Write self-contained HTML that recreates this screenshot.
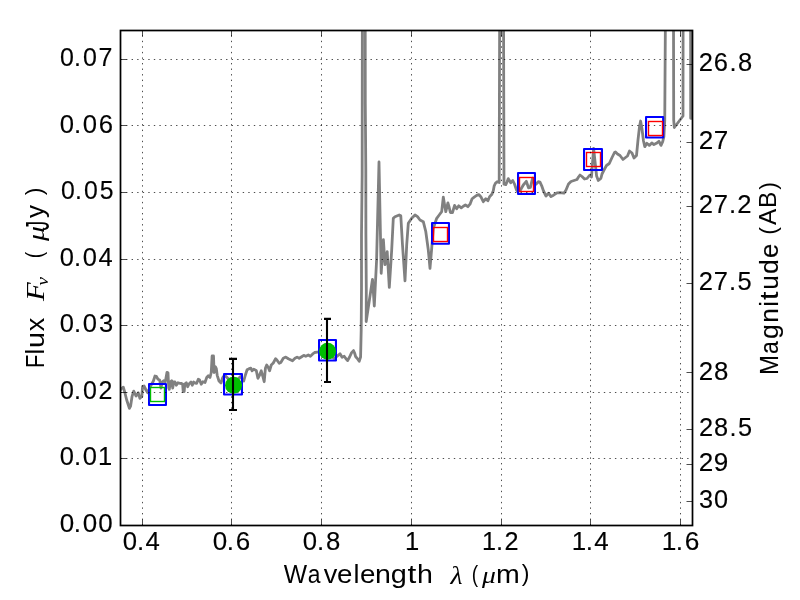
<!DOCTYPE html><html><head><meta charset="utf-8"><style>html,body{margin:0;padding:0;background:#fff;overflow:hidden;}svg{display:block;}</style></head><body>
<svg width="800" height="600" viewBox="0 0 800 600">
<rect x="0" y="0" width="800" height="600" fill="#fff"/>
<defs><clipPath id="ax"><rect x="120.5" y="30.5" width="572" height="495"/></clipPath></defs>
<g clip-path="url(#ax)">
<polyline points="112,395 119,392 121,389 123.3,387.2 124.7,392 126.7,400 129.4,408.3 130.6,406 132,396.7 133.7,391.2 136.1,396 138.3,392.8 139.9,398.3 141.8,396.5 142.6,386.4 144,386 146,390 147.7,392.7 150,387 153.3,381.3 155,376 156.3,376.3 158,379.3 159.7,380 161,388 162.3,382 163.7,380.7 165.3,382 167,372.3 168,372.7 168.7,388 169.3,389.3 170.3,382 171.7,380.7 172.7,388 173.7,382 175,382 176.3,385.3 178,382.7 179.7,383.3 181.5,383.5 182.6,384 183.2,391.5 184.2,391.5 184.8,384 186.3,382.7 187.7,386.7 189,384 191,382 192.3,385.3 193.7,382 195,383 196.7,383.3 198.3,379.2 199.6,380 201.25,384.2 202.9,381.7 205,382.5 206.7,377.5 208.3,375.8 210,377.5 211.25,372.5 212.1,356 213.5,356 214.1,372.5 215.5,366.8 216.3,368.5 217.2,375.3 219,381 221,383 222.4,378.5 223.3,376.7 225.8,376.2 229,379.5 233.5,381 238,379 240.5,376.5 243.75,381 245.4,375 247.1,369.8 248.75,368.9 250.8,368.1 252.1,370.8 253.75,369.2 256.25,370.4 257.9,378.3 259.6,375 261.25,370.8 262.9,376.7 264.2,381.7 265.4,368.3 266.7,365 268.3,367.5 269.6,370.8 271.25,365 273.3,363 275.6,358.7 276.9,360 279.2,363.3 280.8,362.5 283.3,358.3 285.8,357.1 288.3,358.75 292.5,360.8 295,358.3 297.1,357.1 299.2,358.3 301.7,356.7 303.75,355.4 305.8,356.25 308.3,355 310.4,356.25 312.5,354.2 314.6,352.5 317.1,352.1 319,352 325,354 330,356 334.2,358.3 337.5,355.8 340,353.75 342.1,357.3 344.2,356.3 345.8,358.5 347.6,360.6 349.6,357 351.6,352.6 353.5,350.6 354.6,353 355.6,356.5 357.1,358.3 359.2,361.25 360.6,357 361.2,330 361.5,288 361.5,235 362.15,175 362.5,-100 365.1,-100 365.3,104 365.8,170 365.9,234 366.3,290 366.2,321.5 372.5,279.3 374.3,306 376.6,260 379,162 381.2,273.3 383.4,239.75 385,264.7 387.2,251.7 389.3,287.4 391.7,250 393.3,218.3 395,216.7 399.2,215 400.8,215.8 402.5,245 405,280.8 406.7,245 408.3,223.3 411.7,218.3 415,215 417.5,216.7 420,220 423.3,221.7 425.8,231.7 428.3,250 430,268.3 431.7,248.3 433.3,228.3 436.7,218.3 439.2,215 441.7,211.7 443.3,197.1 444.6,205 445.8,211.7 447.9,202.9 449.2,207.5 450.4,212.5 452.5,212.5 454.6,205.4 456.7,208.75 458.75,205.8 461.25,207.9 463.3,206.25 465.4,205 467.9,206.7 470,204.2 472.1,198.75 474.2,197.1 476.7,195.4 478.75,194.6 480.8,196.7 483.3,201.7 485.8,198.75 487.9,200.8 489.6,196.7 491.7,194.6 493.3,190.8 494.2,185.8 495.4,183.3 497.1,181.7 499.2,182.5 501.5,-700 504,184.2 505.8,184.6 507.1,181.7 508.3,178.6 510.7,182.7 512.8,180.5 514.5,184 516.5,190 517.8,191.5 520.3,190.3 523.3,185 526.3,181.3 528.5,187.8 530.4,187.4 532.6,178.2 535,185 536.7,183.5 538.3,181.7 540,182.1 541.7,185.8 543.5,191 546,196 548.5,193.2 551,196.6 553.5,195.2 557,192.8 560,192.6 564,193.2 566,190 568.5,184 571,181.5 574,180.5 577,179.5 578.5,177 580,175 582,176.5 584.5,179 587,178.5 589,176 590.5,175 591.5,177 593.6,148.5 596.6,176 598.3,180.5 600.3,179 601,178 602,174 604,170 606.5,165.5 609.3,163.5 611.8,158 614.5,152.5 615.5,152 617.5,154 620,155.5 623,159.5 625.5,157.5 627.5,156 629.5,151 632,153 634,158 636.5,155.5 638,140 639.6,126 640.6,121 642,129 643.5,141 644.8,146.7 646.8,143.3 649.3,145.4 651.8,142.9 653.9,144.6 656.4,143.3 658.9,141.25 661,145.4 662.7,141.7 663.9,136.7 664.75,120.8 665.4,20 673.5,20 673.7,120 674.3,127.5 683,116 683.1,20 690.6,20 690.7,118.3 700,118" fill="none" stroke="#808080" stroke-width="2.8" stroke-linejoin="round" stroke-linecap="round"/>
<rect x="149.05" y="384.05" width="16.9" height="20.9" fill="none" stroke="#0000ff" stroke-width="2.1" stroke-linejoin="round"/>
<rect x="224.05" y="374.05" width="17.9" height="20.5" fill="none" stroke="#0000ff" stroke-width="2.1" stroke-linejoin="round"/>
<rect x="319.05" y="340.05" width="16.9" height="20.5" fill="none" stroke="#0000ff" stroke-width="2.1" stroke-linejoin="round"/>
<rect x="432.05" y="223.05" width="16.9" height="20.7" fill="none" stroke="#0000ff" stroke-width="2.1" stroke-linejoin="round"/>
<rect x="518.05" y="173.05" width="16.9" height="20.9" fill="none" stroke="#0000ff" stroke-width="2.1" stroke-linejoin="round"/>
<rect x="584.05" y="149.05" width="17.9" height="20.9" fill="none" stroke="#0000ff" stroke-width="2.1" stroke-linejoin="round"/>
<rect x="646.05" y="117.05" width="17.1" height="20.5" fill="none" stroke="#0000ff" stroke-width="2.1" stroke-linejoin="round"/>
<rect x="150.5" y="387.5" width="14" height="14" fill="none" stroke="#00bf00" stroke-width="1.39"/>
<rect x="433.5" y="227.5" width="14" height="14" fill="none" stroke="#ff0000" stroke-width="1.39"/>
<rect x="519.5" y="177.5" width="14" height="14" fill="none" stroke="#ff0000" stroke-width="1.39"/>
<rect x="586.5" y="152.5" width="14" height="14" fill="none" stroke="#ff0000" stroke-width="1.39"/>
<rect x="648.5" y="121.5" width="14" height="14" fill="none" stroke="#ff0000" stroke-width="1.39"/>
</g>
<path d="M142.5 525.5V30M231.5 525.5V30M321.5 525.5V30M411.5 525.5V30M501.5 525.5V30M590.5 525.5V30M680.5 525.5V30M120.5 59.5H692.5M120.5 125.5H692.5M120.5 192.5H692.5M120.5 259.5H692.5M120.5 325.5H692.5M120.5 392.5H692.5M120.5 458.5H692.5" stroke="#000" stroke-width="0.7" stroke-dasharray="1.3889 4.1667" fill="none"/>
<circle cx="233.55" cy="385.35" r="8.5" fill="#00bf00"/>
<circle cx="327.55" cy="351.35" r="8.5" fill="#00bf00"/>
<path d="M233 358.9V409.95M229 358.9H237M229 409.95H237" stroke="#000" stroke-width="2.1" fill="none"/>
<path d="M327 318.9V382M324 318.9H331M324 382H331" stroke="#000" stroke-width="2.1" fill="none"/>
<path d="M142.5 525.5V519.5M142.5 30.5V36.5M231.5 525.5V519.5M231.5 30.5V36.5M321.5 525.5V519.5M321.5 30.5V36.5M411.5 525.5V519.5M411.5 30.5V36.5M501.5 525.5V519.5M501.5 30.5V36.5M590.5 525.5V519.5M590.5 30.5V36.5M680.5 525.5V519.5M680.5 30.5V36.5M120.5 59.5H126.5M120.5 125.5H126.5M120.5 192.5H126.5M120.5 259.5H126.5M120.5 325.5H126.5M120.5 392.5H126.5M120.5 458.5H126.5M692.5 64.5H686.5M692.5 142.5H686.5M692.5 206.5H686.5M692.5 283.5H686.5M692.5 372.5H686.5M692.5 429.5H686.5M692.5 464.5H686.5M692.5 501.5H686.5" stroke="#000" stroke-width="0.7" fill="none"/>
<rect x="120.5" y="30.5" width="572" height="495" fill="none" stroke="#000" stroke-width="1.72"/>
<g opacity="0.999">
<text transform="matrix(0.25688 0 0 0.25352 0 549.746)" x="478.07 532.95 566.16" font-family='"Liberation Sans", sans-serif' font-size="100" fill="#000" stroke="#000" stroke-width="0.6">0.4</text>
<text transform="matrix(0.25962 0 0 0.25352 0 549.746)" x="819.41 873.85 908.00" font-family='"Liberation Sans", sans-serif' font-size="100" fill="#000" stroke="#000" stroke-width="0.6">0.6</text>
<text transform="matrix(0.25714 0 0 0.25352 0 549.746)" x="1177.56 1232.39 1267.50" font-family='"Liberation Sans", sans-serif' font-size="100" fill="#000" stroke="#000" stroke-width="0.6">0.8</text>
<text transform="matrix(0.25581 0 0 0.26087 0 550.000)" x="1583.00" font-family='"Liberation Sans", sans-serif' font-size="100" fill="#000" stroke="#000" stroke-width="0.6">1</text>
<text transform="matrix(0.25253 0 0 0.25714 0 550.000)" x="1908.92 1964.02 1997.54" font-family='"Liberation Sans", sans-serif' font-size="100" fill="#000" stroke="#000" stroke-width="0.6">1.2</text>
<text transform="matrix(0.25962 0 0 0.26087 0 550.000)" x="2202.65 2256.67 2289.39" font-family='"Liberation Sans", sans-serif' font-size="100" fill="#000" stroke="#000" stroke-width="0.6">1.4</text>
<text transform="matrix(0.26263 0 0 0.25352 0 549.746)" x="2519.75 2573.33 2606.92" font-family='"Liberation Sans", sans-serif' font-size="100" fill="#000" stroke="#000" stroke-width="0.6">1.6</text>
<text transform="matrix(0.25974 0 0 0.25352 0 531.746)" x="229.95 284.38 318.50 378.18" font-family='"Liberation Sans", sans-serif' font-size="100" fill="#000" stroke="#000" stroke-width="0.6">0.00</text>
<text transform="matrix(0.25503 0 0 0.25352 0 464.746)" x="234.71 289.88 324.89 384.17" font-family='"Liberation Sans", sans-serif' font-size="100" fill="#000" stroke="#000" stroke-width="0.6">0.01</text>
<text transform="matrix(0.25000 0 0 0.25352 0 398.746)" x="240.00 296.00 332.00 394.00" font-family='"Liberation Sans", sans-serif' font-size="100" fill="#000" stroke="#000" stroke-width="0.6">0.02</text>
<text transform="matrix(0.25490 0 0 0.25352 0 331.746)" x="234.85 290.04 325.08 388.35" font-family='"Liberation Sans", sans-serif' font-size="100" fill="#000" stroke="#000" stroke-width="0.6">0.03</text>
<text transform="matrix(0.25478 0 0 0.25352 0 265.746)" x="234.98 290.19 325.25 386.59" font-family='"Liberation Sans", sans-serif' font-size="100" fill="#000" stroke="#000" stroke-width="0.6">0.04</text>
<text transform="matrix(0.24837 0 0 0.25352 0 198.746)" x="245.79 302.07 338.39 401.30" font-family='"Liberation Sans", sans-serif' font-size="100" fill="#000" stroke="#000" stroke-width="0.6">0.05</text>
<text transform="matrix(0.25658 0 0 0.25352 0 132.746)" x="233.13 288.05 322.77 385.13" font-family='"Liberation Sans", sans-serif' font-size="100" fill="#000" stroke="#000" stroke-width="0.6">0.06</text>
<text transform="matrix(0.25000 0 0 0.25352 0 65.746)" x="240.00 296.00 332.00 394.00" font-family='"Liberation Sans", sans-serif' font-size="100" fill="#000" stroke="#000" stroke-width="0.6">0.07</text>
<text transform="matrix(0.25503 0 0 0.25352 0 70.746)" x="2740.26 2799.08 2860.13 2893.68" font-family='"Liberation Sans", sans-serif' font-size="100" fill="#000" stroke="#000" stroke-width="0.6">26.8</text>
<text transform="matrix(0.26087 0 0 0.25714 0 149.000)" x="2678.33 2735.83" font-family='"Liberation Sans", sans-serif' font-size="100" fill="#000" stroke="#000" stroke-width="0.6">27</text>
<text transform="matrix(0.25676 0 0 0.25714 0 213.000)" x="2721.68 2780.11 2838.89 2871.63" font-family='"Liberation Sans", sans-serif' font-size="100" fill="#000" stroke="#000" stroke-width="0.6">27.2</text>
<text transform="matrix(0.25503 0 0 0.25352 0 289.746)" x="2740.26 2799.08 2858.17 2891.72" font-family='"Liberation Sans", sans-serif' font-size="100" fill="#000" stroke="#000" stroke-width="0.6">27.5</text>
<text transform="matrix(0.25806 0 0 0.25352 0 379.746)" x="2707.75 2766.38" font-family='"Liberation Sans", sans-serif' font-size="100" fill="#000" stroke="#000" stroke-width="0.6">28</text>
<text transform="matrix(0.25333 0 0 0.25352 0 435.746)" x="2758.84 2818.55 2879.42 2913.29" font-family='"Liberation Sans", sans-serif' font-size="100" fill="#000" stroke="#000" stroke-width="0.6">28.5</text>
<text transform="matrix(0.26087 0 0 0.25352 0 470.746)" x="2678.33 2735.83" font-family='"Liberation Sans", sans-serif' font-size="100" fill="#000" stroke="#000" stroke-width="0.6">29</text>
<text transform="matrix(0.25263 0 0 0.25352 0 507.746)" x="2767.08 2825.96" font-family='"Liberation Sans", sans-serif' font-size="100" fill="#000" stroke="#000" stroke-width="0.6">30</text>
<text transform="matrix(0.26889 0 0 0.25532 0 582.638)" font-family='"Liberation Sans", sans-serif' font-size="100" fill="#000"><tspan x="1055.28" textLength="86.82" lengthAdjust="spacingAndGlyphs">W</tspan><tspan x="1144.13" textLength="47.28" lengthAdjust="spacingAndGlyphs">a</tspan><tspan x="1203.95" textLength="50.36" lengthAdjust="spacingAndGlyphs">v</tspan><tspan x="1252.91" textLength="57.22" lengthAdjust="spacingAndGlyphs">e</tspan><tspan x="1314.33" textLength="22.22" lengthAdjust="spacingAndGlyphs">l</tspan><tspan x="1338.45" textLength="57.22" lengthAdjust="spacingAndGlyphs">e</tspan><tspan x="1394.63" textLength="59.11" lengthAdjust="spacingAndGlyphs">n</tspan><tspan x="1453.55" textLength="59.76" lengthAdjust="spacingAndGlyphs">g</tspan><tspan x="1515.17" textLength="32.70" lengthAdjust="spacingAndGlyphs">t</tspan><tspan x="1550.83" textLength="59.11" lengthAdjust="spacingAndGlyphs">h</tspan></text>
<text transform="matrix(0.27907 0 0 0.25714 0 584.000)" x="1614.50" font-family='"Liberation Serif", serif' font-style="italic" font-size="100" fill="#000">λ</text>
<text transform="matrix(0.19231 0 0 0.24468 0 581.862)" x="2453.60" font-family='"Liberation Sans", sans-serif' font-size="100" fill="#000">(</text>
<text transform="matrix(0.27660 0 0 0.23881 0 582.985)" x="1742.62" font-family='"Liberation Serif", serif' font-style="italic" font-size="100" fill="#000">μ</text>
<text transform="matrix(0.28571 0 0 0.25926 0 583.000)" x="1736.00" font-family='"Liberation Sans", sans-serif' font-size="100" fill="#000">m</text>
<text transform="matrix(0.23077 0 0 0.23404 0 581.085)" x="2261.00" font-family='"Liberation Sans", sans-serif' font-size="100" fill="#000">)</text>
<text transform="matrix(0 -0.25676 0.25676 0 43.743 0)" font-family='"Liberation Sans", sans-serif' font-size="100" fill="#000"><tspan x="-1433.62" textLength="51.93" lengthAdjust="spacingAndGlyphs">F</tspan><tspan x="-1380.50" textLength="22.22" lengthAdjust="spacingAndGlyphs">l</tspan><tspan x="-1355.37" textLength="61.90" lengthAdjust="spacingAndGlyphs">u</tspan><tspan x="-1290.21" textLength="52.74" lengthAdjust="spacingAndGlyphs">x</tspan></text>
<text transform="matrix(0 -0.30645 0.26154 0 44.000 0)" x="-982.21" font-family='"Liberation Serif", serif' font-style="italic" font-size="100" fill="#000">F</text>
<text transform="matrix(0 -0.19048 0.17021 0 47.830 0)" x="-1498.25" font-family='"Liberation Serif", serif' font-style="italic" font-size="100" fill="#000">ν</text>
<text transform="matrix(0 -0.19231 0.23404 0 42.085 0)" x="-1342.40" font-family='"Liberation Sans", sans-serif' font-size="100" fill="#000">(</text>
<text transform="matrix(0 -0.29787 0.23881 0 43.985 0)" x="-809.07" font-family='"Liberation Serif", serif' font-style="italic" font-size="100" fill="#000">μ</text>
<text transform="matrix(0 -0.19512 0.32857 0 48.671 0)" x="-1180.75" font-family='"Liberation Sans", sans-serif' font-size="100" fill="#000">J</text>
<text transform="matrix(0 -0.26000 0.25676 0 43.608 0)" x="-838.46" font-family='"Liberation Sans", sans-serif' font-size="100" fill="#000">y</text>
<text transform="matrix(0 -0.23077 0.23404 0 42.085 0)" x="-846.00" font-family='"Liberation Sans", sans-serif' font-size="100" fill="#000">)</text>
<text transform="matrix(0 -0.26005 0.25532 0 777.638 0)" font-family='"Liberation Sans", sans-serif' font-size="100" fill="#000" stroke="#000" stroke-width="0.5"><tspan x="-1441.67" textLength="76.51" lengthAdjust="spacingAndGlyphs">M</tspan><tspan x="-1360.96" textLength="49.36" lengthAdjust="spacingAndGlyphs">a</tspan><tspan x="-1303.83" textLength="57.04" lengthAdjust="spacingAndGlyphs">g</tspan><tspan x="-1241.41" textLength="56.02" lengthAdjust="spacingAndGlyphs">n</tspan><tspan x="-1179.99" textLength="22.22" lengthAdjust="spacingAndGlyphs">i</tspan><tspan x="-1153.36" textLength="32.70" lengthAdjust="spacingAndGlyphs">t</tspan><tspan x="-1114.51" textLength="56.02" lengthAdjust="spacingAndGlyphs">u</tspan><tspan x="-1053.89" textLength="57.04" lengthAdjust="spacingAndGlyphs">d</tspan><tspan x="-992.18" textLength="54.61" lengthAdjust="spacingAndGlyphs">e</tspan></text>
<text transform="matrix(0 -0.22807 0.23404 0 776.085 0)" font-family='"Liberation Sans", sans-serif' font-size="100" fill="#000"><tspan x="-1029.65" textLength="33.31" lengthAdjust="spacingAndGlyphs">(</tspan><tspan x="-986.54" textLength="70.90" lengthAdjust="spacingAndGlyphs">A</tspan><tspan x="-911.83" textLength="71.74" lengthAdjust="spacingAndGlyphs">B</tspan><tspan x="-831.73" textLength="33.31" lengthAdjust="spacingAndGlyphs">)</tspan></text>
</g>
</svg></body></html>
